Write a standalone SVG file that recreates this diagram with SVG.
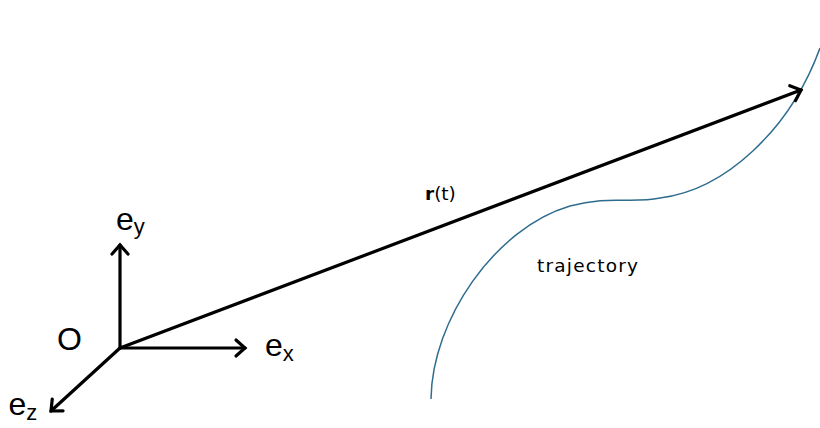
<svg xmlns="http://www.w3.org/2000/svg" width="820" height="428" viewBox="0 0 820 428">
<style>
.ax{stroke:#000;stroke-width:3.2;fill:none;stroke-linecap:round}
.lbl{font-family:"Liberation Sans",Arial,sans-serif;fill:#000;font-size:32px}
.sub{font-size:22px}
.sm{font-family:"DejaVu Sans","Liberation Sans",sans-serif;font-size:18.5px;fill:#000}
.traj{stroke:#2f6d8f;stroke-width:1.5;fill:none}
</style>
<defs>
<marker id="ah" markerUnits="userSpaceOnUse" markerWidth="24" markerHeight="24" refX="12" refY="12" orient="auto" viewBox="0 0 24 24">
<path d="M3,4 L12,12 L3,20" fill="none" stroke="#000" stroke-width="3.2" stroke-linecap="round" stroke-linejoin="miter"/>
</marker>
</defs>
<g id="trajectory">
<path class="traj" d="M431,399 C432,320 495,228 570,206 C610,195 630,204 660,198 C725,190 790,130 820,48"/>
<text class="sm" x="537" y="272" textLength="101" lengthAdjust="spacing">trajectory</text>
</g>
<g id="connectors">
<line class="ax" x1="120" y1="348" x2="120" y2="245" marker-end="url(#ah)"/>
<line class="ax" x1="120" y1="348" x2="245" y2="348" marker-end="url(#ah)"/>
<line class="ax" x1="120" y1="348" x2="51" y2="411" marker-end="url(#ah)"/>
<line class="ax" x1="120" y1="348" x2="801" y2="90" marker-end="url(#ah)"/>
</g>
<g id="origin"><text class="lbl" x="57" y="350">O</text></g>
<g id="ey"><text class="lbl" x="116" y="230">e<tspan class="sub" dy="4">y</tspan></text></g>
<g id="ex"><text class="lbl" x="265" y="356">e<tspan class="sub" dy="5">x</tspan></text></g>
<g id="ez"><text class="lbl" x="8.5" y="415">e<tspan class="sub" dy="5">z</tspan></text></g>
<g id="rt"><text class="sm" x="425" y="199.5"><tspan font-weight="bold">r</tspan>(t)</text></g>
</svg>
